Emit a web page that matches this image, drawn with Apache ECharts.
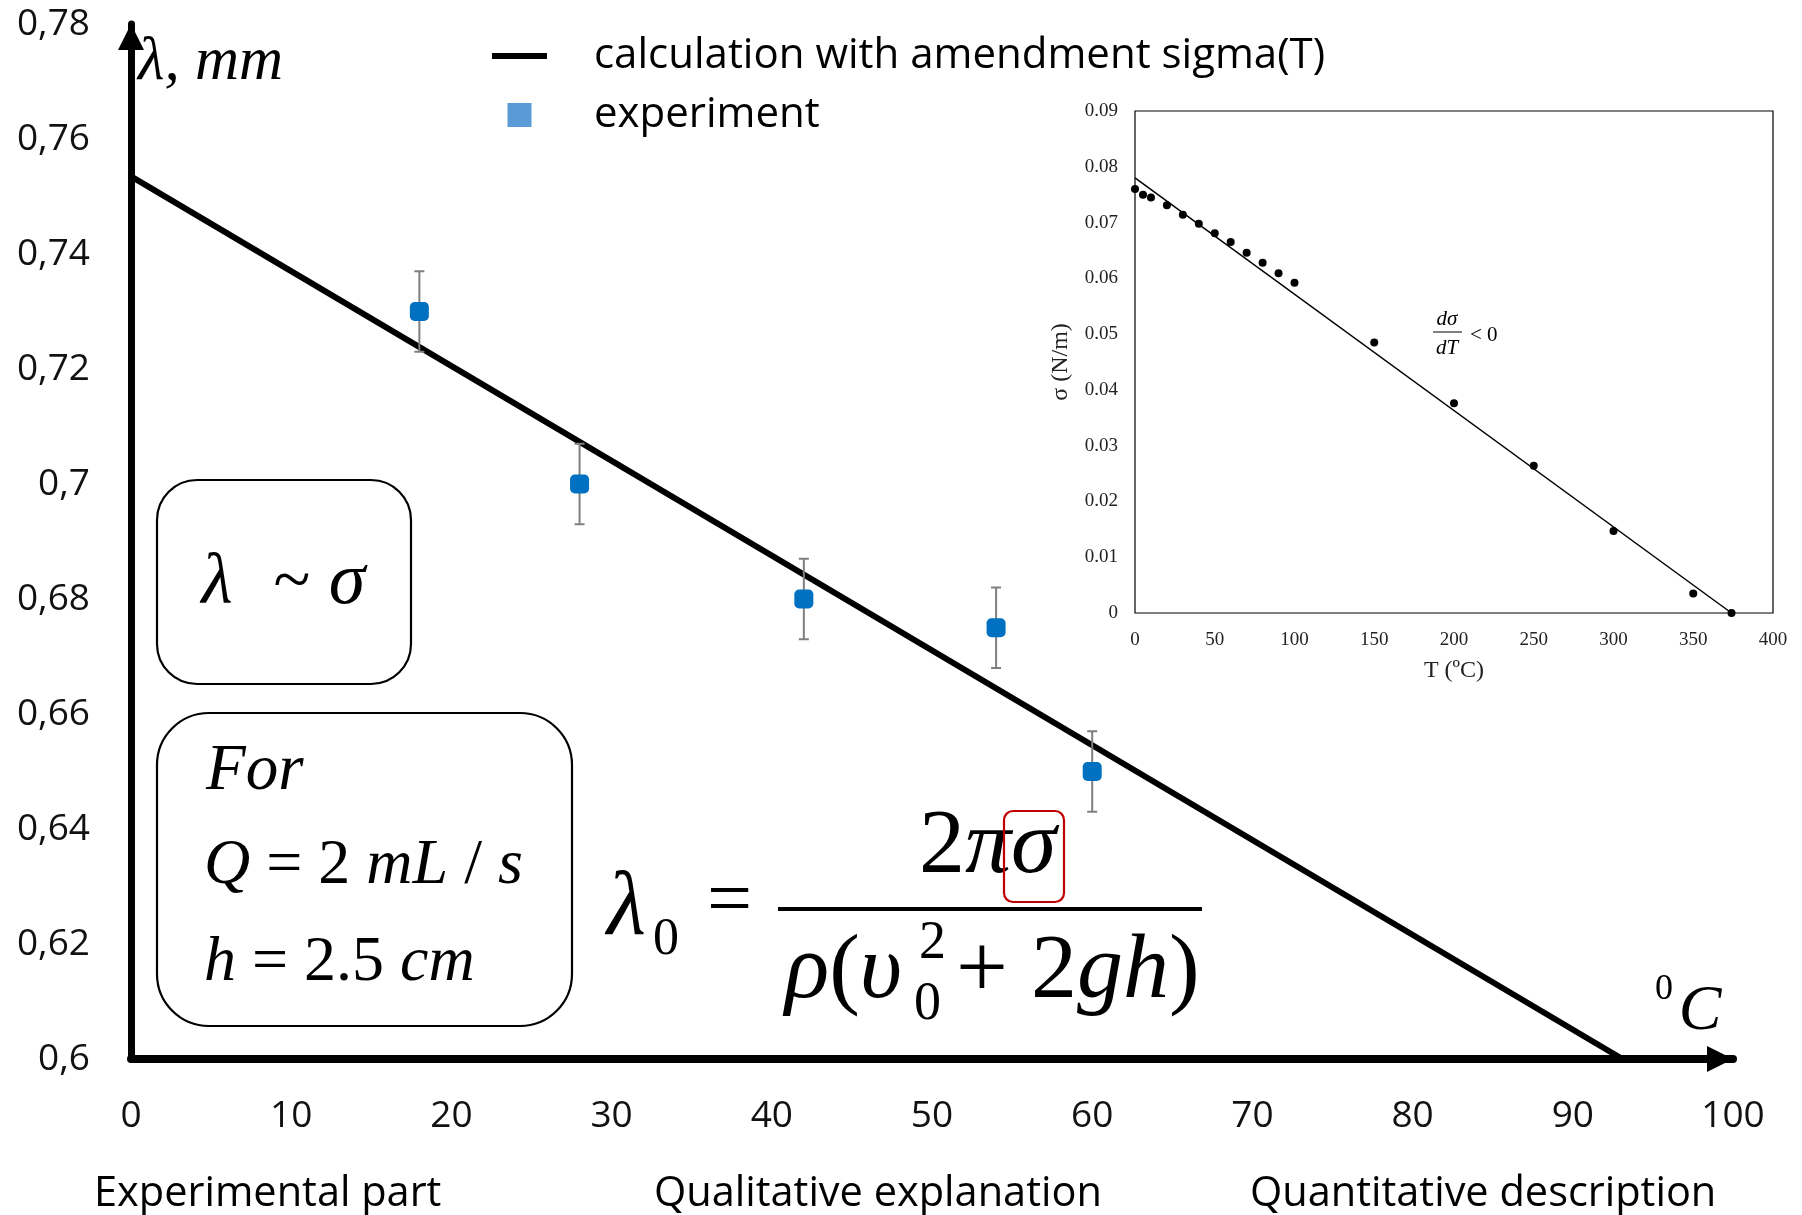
<!DOCTYPE html>
<html><head><meta charset="utf-8">
<script src="https://cdn.jsdelivr.net/npm/echarts@6/dist/echarts.min.js"></script>
<style>html,body{margin:0;padding:0;background:#fff}#c{width:1802px;height:1215px}</style>
</head><body><div id="c"></div>
<script>
// ---- data ----
const calcT = [0, 93.1];
const calcLambda = [0.7535, 0.6];
const expT = [18, 28, 42, 54, 60];
const expLambda = [0.730, 0.700, 0.680, 0.675, 0.650];
const expErr = [0.007, 0.007, 0.007, 0.007, 0.007];
const insetT = [0, 5, 10, 20, 30, 40, 50, 60, 70, 80, 90, 100, 150, 200, 250, 300, 350, 374];
const insetSigma = [0.0760, 0.0750, 0.0745, 0.0731, 0.0714, 0.0698, 0.0681, 0.0665, 0.0646, 0.0628, 0.0609, 0.0592, 0.0485, 0.0376, 0.0264, 0.0147, 0.0035, 0.0];
const insetFitT = [0, 374];
const insetFitSigma = [0.078, 0];
const seriesNames = ['calculation with amendment sigma(T)', 'experiment'];
const bottomLabels = ['Experimental part', 'Qualitative explanation', 'Quantitative description'];

const SANS = '"Open Sans", sans-serif';
const SERIF = '"Liberation Serif", "Times New Roman", serif';
const zip = (a, b) => a.map((v, i) => [v, b[i]]);

const chart = echarts.init(document.getElementById('c'), null, {renderer: 'canvas'});

const mathRich = (size) => ({
  i: {fontFamily: SERIF, fontStyle: 'italic', fontSize: size, fill: '#000', color: '#000'},
  n: {fontFamily: SERIF, fontStyle: 'normal', fontSize: size, fill: '#000', color: '#000'}
});
function mtext(x, y, text, size, align) {
  return {type: 'text', x: x, y: y, z: 50,
    style: {text: text, rich: mathRich(size), font: size + 'px ' + SERIF, fill: '#000',
      align: align || 'left', verticalAlign: 'middle'}};
}
function ptext(x, y, text, font, align) {
  return {type: 'text', x: x, y: y, z: 50,
    style: {text: text, font: font, fill: '#000', align: align || 'left', verticalAlign: 'middle'}};
}

const graphics = [
  // axis titles
  ptext(138, 63, 'λ, mm', 'italic 61px ' + SERIF),
  ptext(1664, 990, '0', '36px ' + SERIF, 'center'),
  ptext(1700, 1012, 'C', 'italic 64px ' + SERIF, 'center'),
  // box 1
  {type: 'rect', z: 40, shape: {x: 157, y: 480, width: 254, height: 204, r: 40}, style: {fill: 'none', stroke: '#000', lineWidth: 2.2}},
  ptext(217, 584, 'λ', 'italic 72px ' + SERIF, 'center'),
  ptext(292, 584, '~', '68px ' + SERIF, 'center'),
  ptext(347, 584, 'σ', 'italic 74px ' + SERIF, 'center'),
  // box 2
  {type: 'rect', z: 40, shape: {x: 157, y: 713, width: 415, height: 313, r: 52}, style: {fill: 'none', stroke: '#000', lineWidth: 2.2}},
  mtext(206, 772, '{i|For}', 65),
  mtext(204, 866, '{i|Q} {n|= 2} {i|mL} {n|/} {i|s}', 64),
  mtext(204, 963, '{i|h} {n|= 2.5} {i|cm}', 64),
  // formula
  ptext(607, 910, 'λ', 'italic 90px ' + SERIF),
  ptext(653, 940, '0', '52px ' + SERIF),
  ptext(707, 904, '=', '80px ' + SERIF),
  {type: 'line', z: 50, shape: {x1: 778, y1: 909, x2: 1202, y2: 909}, style: {stroke: '#000', lineWidth: 4}},
  mtext(919, 848, '{n|2}{i|πσ}', 92),
  {type: 'rect', z: 51, shape: {x: 1004, y: 811, width: 60, height: 91, r: 9}, style: {fill: 'none', stroke: '#C00000', lineWidth: 2.2}},
  mtext(785, 973, '{i|ρ}{n|(}{i|υ}', 92),
  ptext(919, 944, '2', '54px ' + SERIF),
  ptext(914, 1005, '0', '54px ' + SERIF),
  mtext(956, 973, '{n|+ 2}{i|gh}{n|)}', 92),
  // inset annotation
  ptext(1447, 319, 'dσ', 'italic 21px ' + SERIF, 'center'),
  {type: 'line', z: 50, shape: {x1: 1433, y1: 332, x2: 1462, y2: 332}, style: {stroke: '#000', lineWidth: 1}},
  ptext(1447, 348, 'dT', 'italic 21px ' + SERIF, 'center'),
  ptext(1470, 335, '< 0', '21px ' + SERIF)
];
// bottom section labels
const bottomX = [94, 654, 1250];
bottomLabels.forEach((t, i) => graphics.push(ptext(bottomX[i], 1194, t, '41.5px ' + SANS)));

const option = {
  backgroundColor: '#fff',
  animation: false,
  legend: {
    orient: 'vertical', left: 492, top: 35, padding: 0,
    itemWidth: 55, itemHeight: 24, itemGap: 17, symbolKeepAspect: true,
    textStyle: {fontFamily: SANS, fontSize: 42, color: '#000', lineHeight: 42, padding: [0, 0, 0, 42]},
    data: [
      {name: seriesNames[0], icon: 'path://M0,0L55,0L55,6L0,6Z', itemStyle: {color: '#000', opacity: 1}},
      {name: seriesNames[1], icon: 'path://M0,0L24,0L24,24L0,24Z', itemStyle: {color: '#5B9BD5', opacity: 1}}
    ]
  },
  grid: [
    {left: 131, top: 24, width: 1602, height: 1035, containLabel: false, outerBoundsMode: 'none'},
    {left: 1135, top: 111, width: 638, height: 502, containLabel: false, outerBoundsMode: 'none',
      show: true, borderColor: '#000', borderWidth: 1.2, backgroundColor: '#fff', z: 10}
  ],
  xAxis: [
    {type: 'value', gridIndex: 0, min: 0, max: 100, interval: 10,
      axisLine: {show: true, onZero: false, symbol: ['none', 'triangle'], symbolSize: [26, 26], symbolOffset: [0, -13],
        lineStyle: {color: '#000', width: 8}},
      axisTick: {show: false}, splitLine: {show: false},
      axisLabel: {margin: 39, fontFamily: SANS, fontSize: 37, color: '#111'}},
    {type: 'value', gridIndex: 1, min: 0, max: 400, interval: 50,
      axisLine: {show: false}, axisTick: {show: false}, splitLine: {show: false},
      axisLabel: {margin: 18, fontFamily: SERIF, fontSize: 19, color: '#222'},
      name: 'T (ºC)', nameLocation: 'middle', nameGap: 46, nameMoveOverlap: false,
      nameTextStyle: {fontFamily: SERIF, fontSize: 24, color: '#222'}}
  ],
  yAxis: [
    {type: 'value', gridIndex: 0, min: 0.6, max: 0.78, interval: 0.02,
      axisLine: {show: true, onZero: false, symbol: ['none', 'triangle'], symbolSize: [26, 26], symbolOffset: [0, -13],
        lineStyle: {color: '#000', width: 7}},
      axisTick: {show: false}, splitLine: {show: false},
      axisLabel: {margin: 41, fontFamily: SANS, fontSize: 37, color: '#111',
        formatter: v => String(+v.toFixed(2)).replace('.', ',')}},
    {type: 'value', gridIndex: 1, min: 0, max: 0.09, interval: 0.01,
      axisLine: {show: false}, axisTick: {show: false}, splitLine: {show: false},
      axisLabel: {margin: 17, fontFamily: SERIF, fontSize: 19, color: '#222',
        formatter: v => v === 0 ? '0' : v.toFixed(2)},
      name: 'σ (N/m)', nameLocation: 'middle', nameGap: 62, nameMoveOverlap: false,
      nameTextStyle: {fontFamily: SERIF, fontSize: 24, color: '#222'}}
  ],
  series: [
    {name: seriesNames[0], type: 'line', xAxisIndex: 0, yAxisIndex: 0, data: zip(calcT, calcLambda),
      symbol: 'none', color: '#000', lineStyle: {color: '#000', width: 6}, z: 3, silent: true},
    {name: 'errors', type: 'custom', xAxisIndex: 0, yAxisIndex: 0, z: 4,
      data: expT.map((t, i) => [t, expLambda[i], expErr[i]]),
      encode: {x: 0, y: 1},
      renderItem: function (params, api) {
        const x = api.value(0), y = api.value(1), e = api.value(2);
        const a = api.coord([x, y + e]), b = api.coord([x, y - e]);
        const w = 5, st = {stroke: '#7f7f7f', lineWidth: 2};
        return {type: 'group', children: [
          {type: 'line', shape: {x1: a[0], y1: a[1], x2: b[0], y2: b[1]}, style: st},
          {type: 'line', shape: {x1: a[0] - w, y1: a[1], x2: a[0] + w, y2: a[1]}, style: st},
          {type: 'line', shape: {x1: b[0] - w, y1: b[1], x2: b[0] + w, y2: b[1]}, style: st}
        ]};
      }},
    {name: seriesNames[1], type: 'scatter', xAxisIndex: 0, yAxisIndex: 0, data: zip(expT, expLambda),
      symbol: 'roundRect', symbolSize: 19, color: '#0070C0', itemStyle: {color: '#0070C0', opacity: 1}, z: 5},
    {name: 'sigmaFit', type: 'line', xAxisIndex: 1, yAxisIndex: 1, data: zip(insetFitT, insetFitSigma),
      symbol: 'none', lineStyle: {color: '#000', width: 1.5}, z: 11},
    {name: 'sigmaData', type: 'scatter', xAxisIndex: 1, yAxisIndex: 1, data: zip(insetT, insetSigma),
      symbol: 'circle', symbolSize: 8, itemStyle: {color: '#000', opacity: 1}, z: 12}
  ],
  graphic: graphics
};
chart.setOption(option);
</script>
</body></html>
